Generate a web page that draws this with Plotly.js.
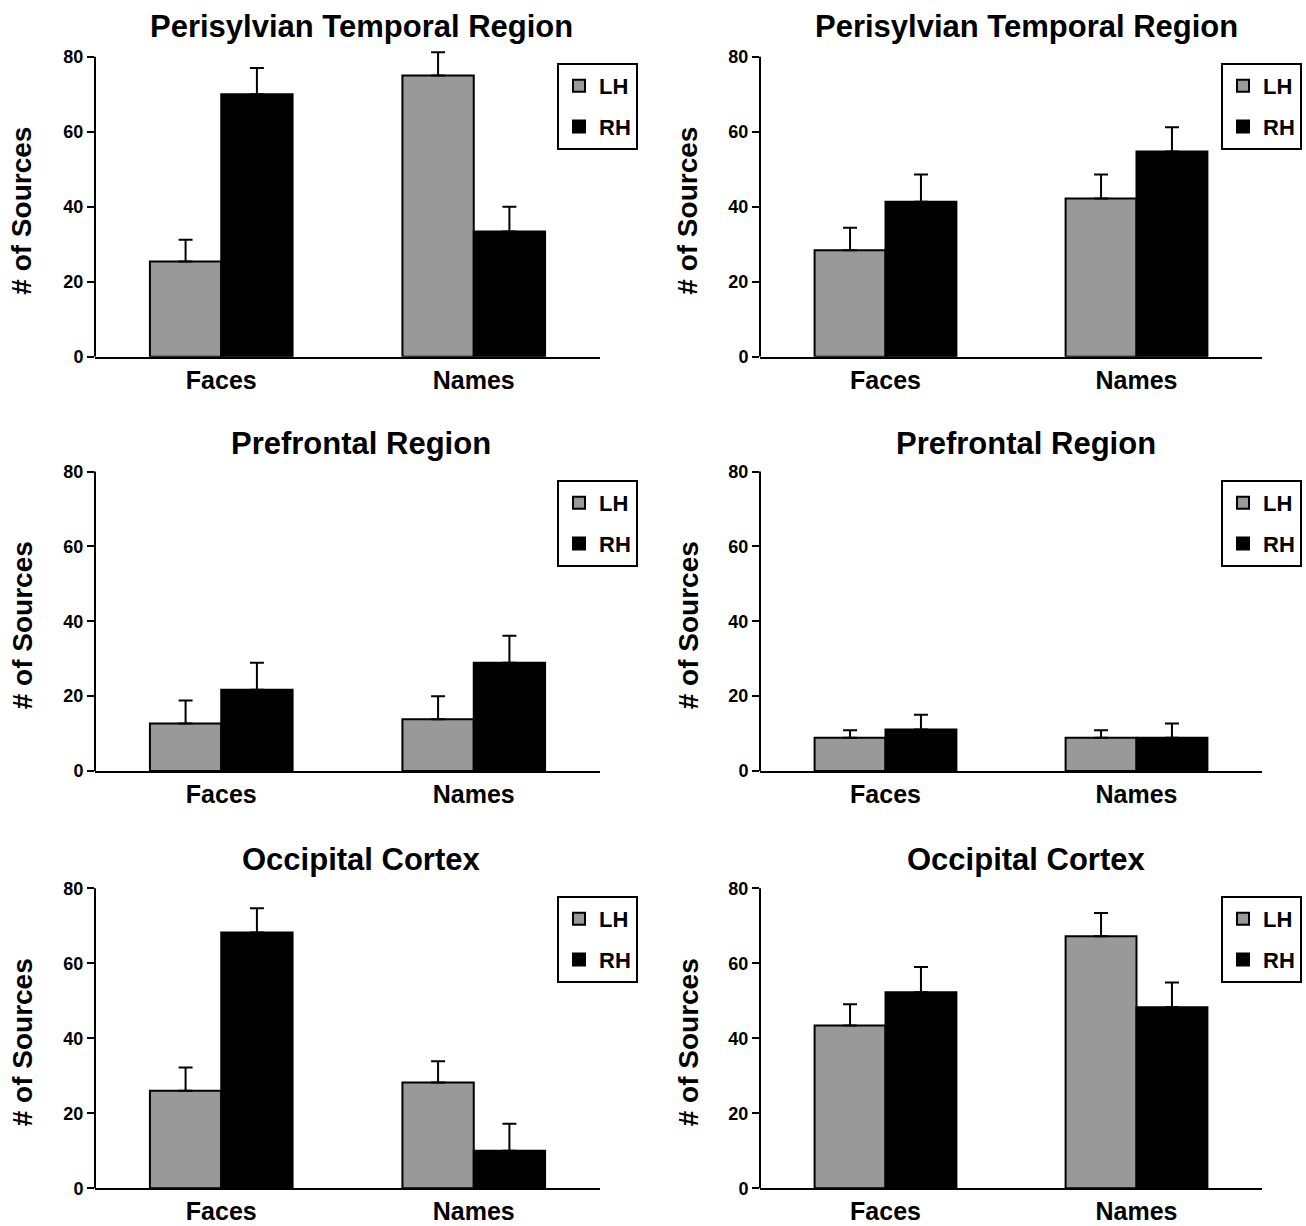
<!DOCTYPE html>
<html>
<head>
<meta charset="utf-8">
<script src="https://cdn.plot.ly/plotly-3.0.1.min.js"></script>
<style>
  html, body { margin: 0; padding: 0; background: #ffffff; }
  #chart { width: 1306px; height: 1226px; }
</style>
</head>
<body>
<div id="chart"></div>
<script>
// ---- Data ----
const categories = ['Faces', 'Names'];
const seriesNames = ['LH', 'RH'];
const panelTitles = [
  'Perisylvian Temporal Region', 'Perisylvian Temporal Region',
  'Prefrontal Region', 'Prefrontal Region',
  'Occipital Cortex', 'Occipital Cortex'
];
const yTickValues = [0, 20, 40, 60, 80];
const yAxisLabel = '# of Sources';

// Top-left: Perisylvian Temporal Region
const p1LH = [25.4, 75.0];
const p1RH = [70.0, 33.4];
const p1LHerr = [5.8, 6.2];
const p1RHerr = [7.0, 6.6];
// Top-right: Perisylvian Temporal Region
const p2LH = [28.4, 42.2];
const p2RH = [41.3, 54.7];
const p2LHerr = [6.0, 6.4];
const p2RHerr = [7.3, 6.5];
// Middle-left: Prefrontal Region
const p3LH = [12.7, 13.8];
const p3RH = [21.7, 28.9];
const p3LHerr = [6.1, 6.2];
const p3RHerr = [7.2, 7.2];
// Middle-right: Prefrontal Region
const p4LH = [8.9, 8.9];
const p4RH = [11.1, 8.9];
const p4LHerr = [2.0, 2.0];
const p4RHerr = [3.9, 3.8];
// Bottom-left: Occipital Cortex
const p5LH = [26.0, 28.2];
const p5RH = [68.2, 10.0];
const p5LHerr = [6.2, 5.7];
const p5RHerr = [6.5, 7.2];
// Bottom-right: Occipital Cortex
const p6LH = [43.4, 67.2];
const p6RH = [52.3, 48.3];
const p6LHerr = [5.7, 6.2];
const p6RHerr = [6.7, 6.6];

const panels = [
  {lh: p1LH, rh: p1RH, lhErr: p1LHerr, rhErr: p1RHerr},
  {lh: p2LH, rh: p2RH, lhErr: p2LHerr, rhErr: p2RHerr},
  {lh: p3LH, rh: p3RH, lhErr: p3LHerr, rhErr: p3RHerr},
  {lh: p4LH, rh: p4RH, lhErr: p4LHerr, rhErr: p4RHerr},
  {lh: p5LH, rh: p5RH, lhErr: p5LHerr, rhErr: p5RHerr},
  {lh: p6LH, rh: p6RH, lhErr: p6LHerr, rhErr: p6RHerr}
];

// ---- Layout geometry (pixels in a 1306 x 1226 canvas) ----
const W = 1306, H = 1226;
const colX = [[95, 600], [760, 1262]];          // left/right plot x extents
const rowY = [[56.7, 356.7], [471.5, 771], [888.3, 1188.3]]; // y=80 / y=0 pixel rows
const yMax = 80, yHead = 84;                     // axis drawn to 80; headroom so error caps are not clipped
const titleCx = [361, 1026];
const titleCy = [27, 443, 859];
const yTitleCx = [22, 688];
const legendLeft = [557, 1221];
const legendTop = [63, 480, 896];

const FONT = '"Liberation Sans", Arial, Helvetica, sans-serif';
const grayFill = '#999999';

const data = [];
const layout = {
  width: W, height: H,
  margin: {l: 0, r: 0, t: 0, b: 0},
  paper_bgcolor: '#ffffff',
  plot_bgcolor: '#ffffff',
  font: {family: FONT, color: '#000000'},
  barmode: 'group',
  bargap: 0.435,
  bargroupgap: 0,
  annotations: [],
  shapes: [],
  showlegend: true
};

panels.forEach((p, i) => {
  const col = i % 2, row = Math.floor(i / 2);
  const n = i + 1;
  const xa = n === 1 ? 'x' : 'x' + n;
  const ya = n === 1 ? 'y' : 'y' + n;
  const lg = n === 1 ? 'legend' : 'legend' + n;

  [[p.lh, p.lhErr, grayFill, 0], [p.rh, p.rhErr, '#000000', 1]].forEach(([vals, errs, color, s]) => {
    data.push({
      type: 'bar',
      x: categories,
      y: vals,
      name: seriesNames[s],
      xaxis: xa, yaxis: ya,
      legend: lg,
      legendgroup: seriesNames[s] + n,
      marker: {color: color, line: {color: '#000000', width: 2}},
      error_y: {
        type: 'data', array: errs, arrayminus: errs.map(() => 0),
        symmetric: false, visible: true,
        color: '#000000', thickness: 2, width: 7
      },
      hoverinfo: 'x+y+name'
    });
  });

  const pxPerUnit = (rowY[row][1] - rowY[row][0]) / yMax;
  const topPx = rowY[row][1] - yHead * pxPerUnit;

  const xKey = n === 1 ? 'xaxis' : 'xaxis' + n;
  const yKey = n === 1 ? 'yaxis' : 'yaxis' + n;
  layout[xKey] = {
    domain: [colX[col][0] / W, colX[col][1] / W],
    anchor: ya,
    type: 'category',
    range: [-0.5, 1.5],
    showgrid: false, zeroline: false,
    showline: true, linecolor: '#000000', linewidth: 2,
    ticks: '',
    tickfont: {family: FONT, size: 25, color: '#000000', weight: 'bold'},
    ticklabelstandoff: 0,
    fixedrange: true
  };
  layout[yKey] = {
    domain: [1 - rowY[row][1] / H, 1 - topPx / H],
    anchor: xa,
    range: [0, yHead],
    tickvals: yTickValues,
    showgrid: false, zeroline: false,
    showline: false,
    ticks: 'outside', ticklen: 7, tickwidth: 2, tickcolor: '#000000',
    tickfont: {family: FONT, size: 18, color: '#000000', weight: 'bold'},
    fixedrange: true
  };
  // y-axis line from 0 to 80 only
  layout.shapes.push({
    type: 'line', layer: 'above',
    xref: xa + ' domain', yref: ya,
    x0: 0, x1: 0, y0: 0, y1: yMax,
    line: {color: '#000000', width: 2}
  });
  layout[lg] = {
    x: legendLeft[col] / W, y: 1 - legendTop[row] / H,
    xanchor: 'left', yanchor: 'top',
    xref: 'paper', yref: 'paper',
    bgcolor: '#ffffff', bordercolor: '#000000', borderwidth: 2,
    font: {family: FONT, size: 22, color: '#000000', weight: 'bold'},
    traceorder: 'grouped',
    tracegroupgap: 9,
    itemwidth: 30,
    itemclick: false, itemdoubleclick: false
  };
  // panel title
  layout.annotations.push({
    text: panelTitles[i],
    xref: 'paper', yref: 'paper',
    x: titleCx[col] / W, y: 1 - titleCy[row] / H,
    xanchor: 'center', yanchor: 'middle',
    showarrow: false,
    font: {family: FONT, size: 31, color: '#000000', weight: 'bold'}
  });
  // y-axis title
  layout.annotations.push({
    text: yAxisLabel,
    xref: 'paper', yref: 'paper',
    x: yTitleCx[col] / W, y: 1 - ((rowY[row][0] + rowY[row][1]) / 2 + 4) / H,
    xanchor: 'center', yanchor: 'middle',
    textangle: -90,
    showarrow: false,
    font: {family: FONT, size: 28, color: '#000000', weight: 'bold'}
  });
});

Plotly.newPlot('chart', data, layout, {staticPlot: true, displayModeBar: false});
</script>
</body>
</html>
